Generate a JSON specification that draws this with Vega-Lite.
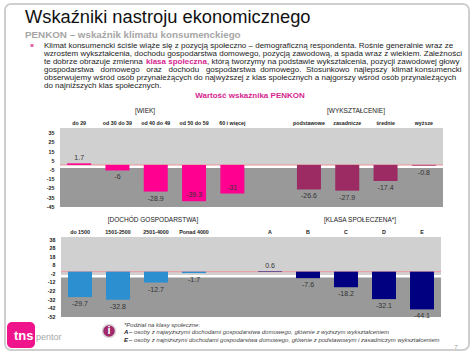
{
"$schema":"https://vega.github.io/schema/vega-lite/v6.json",
"width":474,"height":355,"autosize":"none","padding":0,"background":"white",
"config":{"view":{"stroke":null},"font":"Liberation Sans","text":{"font":"Liberation Sans"}},
"resolve":{"scale":{"x":"independent","y":"independent"},"axis":{"x":"independent","y":"independent"}},
"layer":[
{"data":{"values":[{"n":"ramka"}]},"mark":{"type":"rect","fill":null,"stroke":"#cfcfcf","strokeWidth":2,"cornerRadius":6},"encoding":{"x":{"value":5},"x2":{"value":469},"y":{"value":4},"y2":{"value":350}}},

{"data":{"values":[{"t":"Wskaźniki nastroju ekonomicznego"}]},"mark":{"type":"text","align":"left","baseline":"alphabetic","fontSize":18.3,"color":"#111"},"encoding":{"x":{"value":25},"y":{"value":23},"text":{"field":"t"}}},
{"data":{"values":[{"t":"PENKON – wskaźnik klimatu konsumenckiego"}]},"mark":{"type":"text","align":"left","baseline":"alphabetic","fontSize":9.8,"fontWeight":"bold","color":"#a6a6a6"},"encoding":{"x":{"value":25},"y":{"value":37.5},"text":{"field":"t"}}},
{"data":{"values":[{"n":"znak"}]},"mark":{"type":"square","size":9,"filled":true,"color":"#d6268f"},"encoding":{"x":{"value":32},"y":{"value":45.5}}},
{"data":{"values":[
{"line":"1","t":"Klimat konsumencki ściśle wiąże się z pozycją społeczno – demograficzną respondenta. Rośnie generalnie  wraz ze"},
{"line":"2","t":"wzrostem wykształcenia, dochodu gospodarstwa domowego, pozycją zawodową, a spada wraz z wiekiem. Zależności"},
{"line":"3","t":"te dobrze obrazuje zmienna"},
{"line":"4","t":"gospodarstwa \u00a0\u00a0domowego \u00a0\u00a0oraz \u00a0\u00a0dochodu \u00a0\u00a0gospodarstwa \u00a0domowego. \u00a0Stosunkowo \u00a0najlepszy \u00a0klimat konsumencki"},
{"line":"5","t":"obserwujemy wśród osób przynależących do najwyższej z klas społecznych a najgorszy wśród osób przynależących"},
{"line":"6","t":"do najniższych klas społecznych."}
]},"mark":{"type":"text","align":"left","baseline":"middle","fontSize":8,"color":"#222"},"encoding":{"x":{"value":44},"y":{"field":"line","type":"ordinal","axis":null,"scale":{"type":"point","domain":["1","2","3","4","5","6"],"range":[46,85.5],"padding":0}},"text":{"field":"t"}}},
{"data":{"values":[{"t":"klasa społeczna"}]},"mark":{"type":"text","align":"left","baseline":"middle","fontSize":8,"fontWeight":"bold","color":"#d6268f"},"encoding":{"x":{"value":146},"y":{"value":61.8},"text":{"field":"t"}}},
{"data":{"values":[{"t":", którą tworzymy na podstawie wykształcenia, pozycji zawodowej głowy"}]},"mark":{"type":"text","align":"left","baseline":"middle","fontSize":8,"color":"#222"},"encoding":{"x":{"value":207},"y":{"value":61.8},"text":{"field":"t"}}},
{"data":{"values":[{"t":"Wartość wskaźnika PENKON"}]},"mark":{"type":"text","align":"center","baseline":"middle","fontSize":8,"fontWeight":"bold","color":"#d6268f"},"encoding":{"x":{"value":250},"y":{"value":96},"text":{"field":"t"}}},
{"data":{"values":[{"t":"[WIEK]","p":"a"}]},"mark":{"type":"text","align":"center","baseline":"middle","fontSize":6.5,"color":"#222"},"encoding":{"x":{"value":145},"y":{"value":111},"text":{"field":"t"}}},
{"data":{"values":[{"t":"[WYKSZTAŁCENIE]"}]},"mark":{"type":"text","align":"center","baseline":"middle","fontSize":6.5,"color":"#222"},"encoding":{"x":{"value":356},"y":{"value":111},"text":{"field":"t"}}},
{"data":{"values":[{"t":"[DOCHÓD  GOSPODARSTWA]"}]},"mark":{"type":"text","align":"center","baseline":"middle","fontSize":6.5,"color":"#222"},"encoding":{"x":{"value":153},"y":{"value":219.5},"text":{"field":"t"}}},
{"data":{"values":[{"t":"[KLASA  SPOŁECZENA*]"}]},"mark":{"type":"text","align":"center","baseline":"middle","fontSize":6.5,"color":"#222"},"encoding":{"x":{"value":360},"y":{"value":220},"text":{"field":"t"}}},

{"data":{"values":[
{"kategoria":"do 29","wartosc":1.7,"etykieta":"1.7","grupa":"wiek"},
{"kategoria":"od 30 do 39","wartosc":-6,"etykieta":"-6","grupa":"wiek"},
{"kategoria":"od 40 do 49","wartosc":-28.9,"etykieta":"-28.9","grupa":"wiek"},
{"kategoria":"od 50 do 59","wartosc":-39.3,"etykieta":"-39.3","grupa":"wiek"},
{"kategoria":"60 i więcej","wartosc":-31,"etykieta":"-31","grupa":"wiek"},
{"kategoria":"podstawowe","wartosc":-26.6,"etykieta":"-26.6","grupa":"wyksztalcenie"},
{"kategoria":"zasadnicze","wartosc":-27.9,"etykieta":"-27.9","grupa":"wyksztalcenie"},
{"kategoria":"średnie","wartosc":-17.4,"etykieta":"-17.4","grupa":"wyksztalcenie"},
{"kategoria":"wyższe","wartosc":-0.8,"etykieta":"-0.8","grupa":"wyksztalcenie"}
]},
"encoding":{
"x":{"field":"kategoria","type":"nominal","title":null,"sort":null,
"scale":{"domain":["do 29","od 30 do 39","od 40 do 49","od 50 do 59","60 i więcej"," ","podstawowe","zasadnicze","średnie","wyższe"],"range":[60,443],"paddingInner":0.37,"paddingOuter":0.185},
"axis":{"orient":"top","offset":-128,"zindex":1,"domain":false,"ticks":false,"labelAngle":0,"labelPadding":3,"labelFontSize":5.3,"labelFontWeight":"bold","labelColor":"#222","labelOverlap":false,"labelLimit":0,"grid":false}},
"y":{"field":"wartosc","type":"quantitative","title":null,
"scale":{"domain":[-45.6,40],"range":[207,128],"nice":false,"zero":false},
"axis":{"orient":"left","offset":-60,"zindex":1,"values":[35,25,15,5,-5,-15,-25,-35,-45],"labelExpr":"replace(datum.label,'−','-')","domain":false,"ticks":false,"grid":false,"labelPadding":6,"labelFontSize":5.3,"labelFontWeight":"bold","labelColor":"#222"}}
},
"layer":[
{"data":{"values":[{"od":40,"do":-0.5,"pas":"gora"},{"od":-0.5,"do":-3.3,"pas":"biel"},{"od":-3.3,"do":-45.6,"pas":"dol"}]},
"mark":{"type":"rect"},"encoding":{"x":{"value":60},"x2":{"value":443},"y":{"field":"od","type":"quantitative"},"y2":{"field":"do"},"color":{"field":"pas","type":"nominal","legend":null,"scale":{"domain":["gora","biel","dol","wiek","wyksztalcenie","dochod","klasa"],"range":["#d0d0d0","#ffffff","#999999","#ff0090","#9c2a63","#2b8fd0","#000080"]}}}},
{"data":{"values":[{"poziom":0}]},"mark":{"type":"rule","color":"#e9a3a8","strokeWidth":1.2},"encoding":{"x":{"value":60},"x2":{"value":443},"y":{"field":"poziom","type":"quantitative"}}},
{"mark":{"type":"bar","width":24},"encoding":{"y":{"field":"wartosc","type":"quantitative","stack":null},"color":{"field":"grupa","type":"nominal","legend":null,"scale":{"domain":["gora","biel","dol","wiek","wyksztalcenie","dochod","klasa"],"range":["#d0d0d0","#ffffff","#999999","#ff0090","#9c2a63","#2b8fd0","#000080"]}}}},
{"transform":[{"filter":"datum.wartosc>=0"}],"mark":{"type":"text","baseline":"bottom","dy":-2,"fontSize":7,"color":"#333"},"encoding":{"text":{"field":"etykieta"}}},
{"transform":[{"filter":"datum.wartosc<0 && datum.wartosc!=-39.3 && datum.wartosc!=-31"}],"mark":{"type":"text","baseline":"top","dy":3,"fontSize":7,"color":"#333"},"encoding":{"text":{"field":"etykieta"}}},
{"transform":[{"filter":"datum.wartosc==-39.3 || datum.wartosc==-31"}],"mark":{"type":"text","baseline":"bottom","dy":-3,"fontSize":7,"color":"#333"},"encoding":{"text":{"field":"etykieta"}}}
]},

{"data":{"values":[
{"kategoria":"do 1500","wartosc":-29.7,"etykieta":"-29.7","grupa":"dochod"},
{"kategoria":"1501-2500","wartosc":-32.8,"etykieta":"-32.8","grupa":"dochod"},
{"kategoria":"2501-4000","wartosc":-12.7,"etykieta":"-12.7","grupa":"dochod"},
{"kategoria":"Ponad 4000","wartosc":-1.7,"etykieta":"-1.7","grupa":"dochod"},
{"kategoria":"A","wartosc":0.6,"etykieta":"0.6","grupa":"klasa"},
{"kategoria":"B","wartosc":-7.6,"etykieta":"-7.6","grupa":"klasa"},
{"kategoria":"C","wartosc":-18.2,"etykieta":"-18.2","grupa":"klasa"},
{"kategoria":"D","wartosc":-32.1,"etykieta":"-32.1","grupa":"klasa"},
{"kategoria":"E","wartosc":-44.1,"etykieta":"-44.1","grupa":"klasa"}
]},
"encoding":{
"x":{"field":"kategoria","type":"nominal","title":null,"sort":null,
"scale":{"domain":["do 1500","1501-2500","2501-4000","Ponad 4000"," ","A","B","C","D","E"],"range":[61,441],"paddingInner":0.37,"paddingOuter":0.185},
"axis":{"orient":"top","offset":-237,"zindex":1,"domain":false,"ticks":false,"labelAngle":0,"labelPadding":3,"labelFontSize":5.3,"labelFontWeight":"bold","labelColor":"#222","labelOverlap":false,"labelLimit":0,"grid":false}},
"y":{"field":"wartosc","type":"quantitative","title":null,
"scale":{"domain":[-53,40.5],"range":[317,237],"nice":false,"zero":false},
"axis":{"orient":"left","offset":-61,"zindex":1,"values":[38,28,18,8,-2,-12,-22,-32,-42,-52],"labelExpr":"replace(datum.label,'−','-')","domain":false,"ticks":false,"grid":false,"labelPadding":6,"labelFontSize":5.3,"labelFontWeight":"bold","labelColor":"#222"}}
},
"layer":[
{"data":{"values":[{"od":40.5,"do":-4,"pas":"gora"},{"od":-4,"do":-6.8,"pas":"biel"},{"od":-6.8,"do":-53,"pas":"dol"}]},
"mark":{"type":"rect"},"encoding":{"x":{"value":61},"x2":{"value":441},"y":{"field":"od","type":"quantitative"},"y2":{"field":"do"},"color":{"field":"pas","type":"nominal","legend":null,"scale":{"domain":["gora","biel","dol","wiek","wyksztalcenie","dochod","klasa"],"range":["#d0d0d0","#ffffff","#999999","#ff0090","#9c2a63","#2b8fd0","#000080"]}}}},
{"data":{"values":[{"poziom":0}]},"mark":{"type":"rule","color":"#e9a3a8","strokeWidth":1.2},"encoding":{"x":{"value":61},"x2":{"value":441},"y":{"field":"poziom","type":"quantitative"}}},
{"mark":{"type":"bar","width":24},"encoding":{"y":{"field":"wartosc","type":"quantitative","stack":null},"color":{"field":"grupa","type":"nominal","legend":null,"scale":{"domain":["gora","biel","dol","wiek","wyksztalcenie","dochod","klasa"],"range":["#d0d0d0","#ffffff","#999999","#ff0090","#9c2a63","#2b8fd0","#000080"]}}}},
{"transform":[{"filter":"datum.wartosc>=0"}],"mark":{"type":"text","baseline":"bottom","dy":-2,"fontSize":7,"color":"#333"},"encoding":{"text":{"field":"etykieta"}}},
{"transform":[{"filter":"datum.wartosc<0"}],"mark":{"type":"text","baseline":"top","dy":3,"fontSize":7,"color":"#333"},"encoding":{"text":{"field":"etykieta"}}}
]},

{"data":{"values":[{"n":"logo"}]},"mark":{"type":"rect","fill":"#f0148c","cornerRadius":5},"encoding":{"x":{"value":7},"x2":{"value":35},"y":{"value":322},"y2":{"value":348}}},
{"data":{"values":[{"t":"tns"}]},"mark":{"type":"text","align":"left","baseline":"alphabetic","fontSize":13,"fontWeight":"bold","color":"white"},"encoding":{"x":{"value":14},"y":{"value":340},"text":{"field":"t"}}},
{"data":{"values":[{"t":"pentor"}]},"mark":{"type":"text","align":"left","baseline":"alphabetic","fontSize":9,"color":"#a8a8a8"},"encoding":{"x":{"value":36},"y":{"value":340},"text":{"field":"t"}}},
{"data":{"values":[{"n":"i"}]},"mark":{"type":"point","filled":true,"shape":"circle","size":170,"fill":"#a02a6b","stroke":"#d9d9d9","strokeWidth":1.5,"opacity":1},"encoding":{"x":{"value":109},"y":{"value":331}}},
{"data":{"values":[{"t":"i"}]},"mark":{"type":"text","align":"center","baseline":"middle","fontSize":11,"fontWeight":"bold","color":"white"},"encoding":{"x":{"value":109},"y":{"value":331},"text":{"field":"t"}}},
{"data":{"values":[{"t":"*Podział na klasy społeczne:"}]},"mark":{"type":"text","align":"left","baseline":"middle","fontSize":6,"fontStyle":"italic","color":"#444"},"encoding":{"x":{"value":124},"y":{"value":325},"text":{"field":"t"}}},
{"data":{"values":[{"t":"A"},{"t":"E"}]},"mark":{"type":"text","align":"left","baseline":"middle","fontSize":6,"fontStyle":"italic","fontWeight":"bold","color":"#222"},"encoding":{"x":{"value":124},"y":{"field":"t","type":"ordinal","axis":null,"scale":{"type":"point","domain":["A","E"],"range":[332,340],"padding":0}},"text":{"field":"t"}}},
{"data":{"values":[{"k":"A","t":"– osoby z najwyższymi dochodami gospodarstwa domowego, głównie z wyższym wykształceniem"},{"k":"E","t":"– osoby z najniższymi dochodami gospodarstwa domowego, głównie z podstawowym i zasadniczym wykształceniem"}]},"mark":{"type":"text","align":"left","baseline":"middle","fontSize":6,"fontStyle":"italic","color":"#444"},"encoding":{"x":{"value":129},"y":{"field":"k","type":"ordinal","axis":null,"scale":{"type":"point","domain":["A","E"],"range":[332,340],"padding":0}},"text":{"field":"t"}}},
{"data":{"values":[{"t":"7"}]},"mark":{"type":"text","align":"center","baseline":"middle","fontSize":6,"color":"#999"},"encoding":{"x":{"value":456},"y":{"value":347},"text":{"field":"t"}}}
]}
